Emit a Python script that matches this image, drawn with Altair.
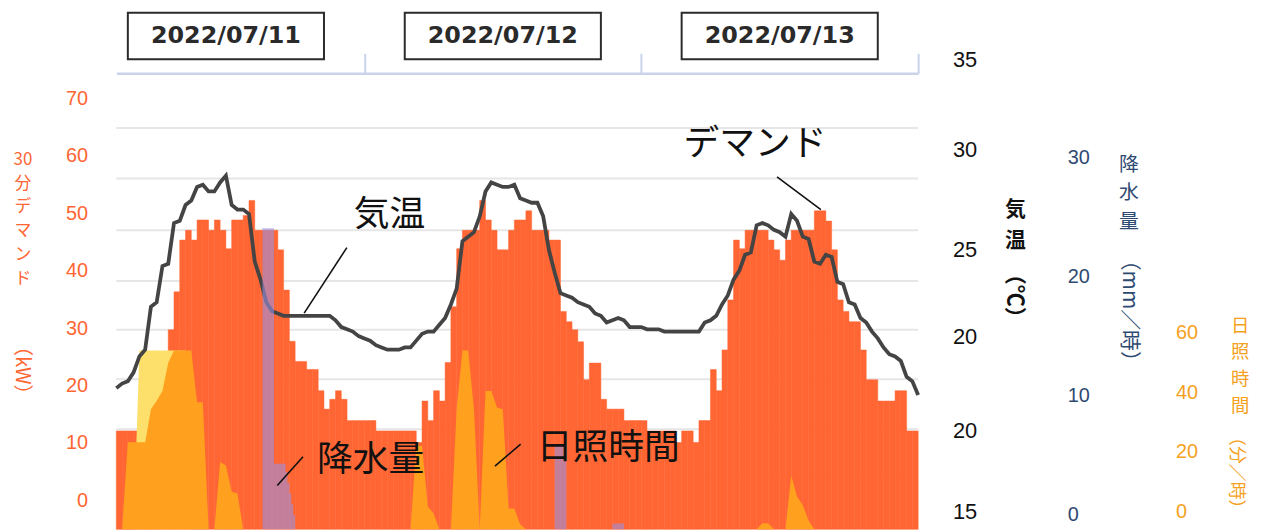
import altair as alt
import pandas as pd

# ------------------------------------------------------------------ data
START = "2022-07-11 02:30"          # first 30-minute slot shown
FMT = "%Y-%m-%dT%H:%M:%S"

# 30-minute demand (kW), one value per slot
DEMAND_KW = [
    12.1, 12.1, 12.1, 12.1, 12.1, 13.9, 15.9, 19.1, 24.0, 29.7,
    36.3, 45.3, 47.0, 45.3, 48.8, 48.8, 47.0, 48.8, 47.0, 43.8,
    48.8, 48.8, 49.6, 52.2, 47.0, 47.0, 47.0, 47.0, 43.6, 36.6,
    27.7, 24.2, 24.2, 22.8, 22.8, 19.1, 15.9, 17.6, 19.1, 17.6,
    13.9, 13.9, 13.9, 13.9, 13.9, 12.1, 12.1, 12.1, 12.1, 12.1,
    12.1, 12.1, 10.1, 17.3, 13.9, 19.1, 17.3, 24.0, 33.7, 43.8,
    47.0, 47.0, 47.0, 52.2, 48.8, 47.0, 43.6, 43.6, 47.0, 48.8,
    48.8, 50.4, 47.0, 47.0, 47.0, 45.3, 45.3, 32.9, 31.1, 29.7,
    27.6, 21.0, 23.9, 23.9, 17.6, 15.9, 15.9, 15.9, 13.9, 13.9,
    13.9, 13.9, 12.1, 12.1, 12.1, 12.1, 12.1, 10.1, 12.1, 12.1,
    10.1, 13.9, 13.9, 22.8, 19.1, 26.2, 34.9, 45.3, 43.8, 47.0,
    47.0, 47.0, 47.0, 45.3, 43.6, 41.8, 45.3, 47.0, 47.0, 47.0,
    47.0, 50.4, 50.4, 48.6, 43.6, 34.9, 32.9, 31.1, 31.1, 26.2,
    21.0, 21.0, 17.3, 17.3, 17.3, 19.1, 19.1, 12.1, 12.1,
]

# air temperature (deg C) at every slot boundary
TEMP_C = [
    20.5, 20.7, 20.8, 21.2, 21.9, 22.2, 24.1, 24.3, 25.9, 26.0,
    27.8, 27.9, 28.6, 28.8, 29.4, 29.5, 29.2, 29.2, 29.6, 29.9,
    28.6, 28.4, 28.4, 28.2, 26.1, 25.3, 24.3, 23.9, 23.8, 23.7,
    23.7, 23.7, 23.7, 23.7, 23.7, 23.7, 23.7, 23.7, 23.5, 23.2,
    23.1, 23.0, 22.8, 22.7, 22.6, 22.4, 22.3, 22.2, 22.2, 22.2,
    22.3, 22.3, 22.6, 22.9, 23.0, 23.0, 23.3, 23.6, 24.2, 24.9,
    27.0, 27.2, 27.4, 28.1, 29.2, 29.6, 29.5, 29.4, 29.4, 29.5,
    28.9, 28.8, 28.7, 28.7, 28.1, 26.6, 25.6, 24.7, 24.6, 24.5,
    24.3, 24.2, 24.1, 23.8, 23.7, 23.4, 23.5, 23.6, 23.5, 23.2,
    23.2, 23.2, 23.1, 23.1, 23.1, 23.0, 23.0, 23.0, 23.0, 23.0,
    23.0, 23.0, 23.4, 23.5, 23.7, 24.2, 24.6, 25.3, 25.7, 26.4,
    26.5, 27.7, 27.8, 27.7, 27.5, 27.4, 27.2, 28.2, 27.9, 27.2,
    27.1, 26.1, 26.0, 26.4, 26.3, 25.2, 25.1, 24.3, 24.2, 23.6,
    23.4, 23.0, 22.7, 22.3, 22.0, 21.9, 21.7, 21.0, 20.8, 20.2,
]

# sunshine (min/hour) at every slot boundary
SUNSHINE_MIN = [
    0, 0, 29.2, 29.2, 29.2, 29.2, 40.3, 43.1, 46.4, 55.9,
    60, 60, 60, 60, 42.6, 42.6, 0, 0, 22.6, 21.4,
    12.6, 12.0, 0, 0, 0, 0, 0, 0, 0, 0,
    0, 0, 0, 0, 0, 0, 0, 0, 0, 0,
    0, 0, 0, 0, 0, 0, 0, 0, 0, 0,
    0, 0, 28.0, 28.0, 7.7, 5.3, 0, 0, 0, 40.3,
    60, 60, 40.3, 0, 46.4, 46.4, 40.9, 40.3, 7.0, 7.0,
    1.7, 0, 0, 0, 0, 0, 0, 0, 0, 0,
    0, 0, 0, 0, 0, 0, 0, 0, 0, 0,
    0, 0, 0, 0, 0, 0, 0, 0, 0, 0,
    0, 0, 0, 0, 0, 0, 0, 0, 0, 0,
    0, 0, 2.0, 2.0, 0, 0, 0, 18.1, 11.0, 8.1,
    3.0, 0, 0, 0, 0, 0, 0, 0, 0, 0,
    0, 0, 0, 0, 0, 0, 0, 0, 0, 0,
]

# pale yellow band behind the first morning's sunshine
YELLOW_MIN = [
    0, 0, 0, 0, 60, 60, 60, 60, 60, 60,
    60, 60, 60, 0, 0, 0, 0, 0, 0, 0,
] + [0] * 120

# precipitation (mm/hour), step series
PRECIP_TIME = [
    "2022-07-11 02:30", "2022-07-11 15:10", "2022-07-11 16:10", "2022-07-11 17:10",
    "2022-07-11 17:20", "2022-07-11 17:30", "2022-07-11 17:40", "2022-07-11 17:50",
    "2022-07-11 18:00", "2022-07-12 16:30", "2022-07-12 17:30", "2022-07-12 21:30",
    "2022-07-12 22:30", "2022-07-14 00:00",
]
PRECIP_MM = [0, 25.3, 5.5, 4.8, 3.9, 3.0, 2.1, 1.2, 0, 7.0, 0, 0.5, 0, 0]

DAY_LABEL = ["2022/07/11", "2022/07/12", "2022/07/13"]
DAY_DATE = ["2022-07-11", "2022-07-12", "2022-07-13"]

DEMAND_TICKS = [0, 10, 20, 30, 40, 50, 60, 70]
GRID_KW = [64.8, 56.0, 47.0, 38.2, 29.7, 21.1, 12.4, 3.8]
TEMP_TICK_VALUE = [35, 31.04, 26.6, 22.78, 18.6, 15]
TEMP_TICK_TEXT = ["35", "30", "25", "20", "20", "15"]
PRECIP_TICKS = [0, 10, 20, 30]
SUN_TICKS = [0, 20, 40, 60]

ANNOT_TEXT = ["デマンド", "気温", "降水量", "日照時間"]
ANNOT_TIME = ["2022-07-13 09:52", "2022-07-12 02:11", "2022-07-12 00:33", "2022-07-12 21:08"]
ANNOT_KW = [62.0, 49.6, 7.1, 9.2]

# ------------------------------------------------------------------ frames
W, H = 807, 459


def iso(ts):
    return pd.Timestamp(ts).strftime(FMT)


slots = pd.date_range(START, periods=len(TEMP_C), freq="30min")
bars_df = pd.DataFrame({
    "t": slots[:-1].strftime(FMT),
    "t2": slots[1:].strftime(FMT),
    "kw": DEMAND_KW,
})
temp_df = pd.DataFrame({"t": slots.strftime(FMT), "c": TEMP_C})
sun_df = pd.DataFrame({"t": slots.strftime(FMT), "m": SUNSHINE_MIN})
yel_df = pd.DataFrame({"t": slots.strftime(FMT), "m": YELLOW_MIN})
precip_df = pd.DataFrame({"t": [iso(s) for s in PRECIP_TIME], "mm": PRECIP_MM})
grid_df = pd.DataFrame({"kw": GRID_KW})
temp_tick_df = pd.DataFrame({"v": TEMP_TICK_VALUE, "s": TEMP_TICK_TEXT})
annot_df = pd.DataFrame({"t": [iso(s) for s in ANNOT_TIME], "kw": ANNOT_KW, "s": ANNOT_TEXT})
lead_df = pd.DataFrame({
    "t": [iso(s) for s in ["2022-07-13 11:46", "2022-07-11 22:29", "2022-07-11 18:41", "2022-07-12 13:33"]],
    "kw": [56.3, 44.0, 7.6, 9.8],
    "t2": [iso(s) for s in ["2022-07-13 15:34", "2022-07-11 18:47", "2022-07-11 16:27", "2022-07-12 11:19"]],
    "kw2": [50.6, 32.6, 2.6, 6.0],
})
day0 = [pd.Timestamp(d) for d in DAY_DATE]
box_df = pd.DataFrame({
    "t": [(d + pd.Timedelta(hours=3, minutes=30)).strftime(FMT) for d in day0],
    "t2": [(d + pd.Timedelta(hours=20, minutes=30)).strftime(FMT) for d in day0],
})
day_text_df = pd.DataFrame({
    "t": [(d + pd.Timedelta(hours=12)).strftime(FMT) for d in day0],
    "s": DAY_LABEL,
})

# ------------------------------------------------------------------ scales / axes
X_SCALE = alt.Scale(
    domain=[alt.DateTime(year=2022, month=7, date=11, hours=2, minutes=30),
            alt.DateTime(year=2022, month=7, date=14, hours=0)],
    nice=False,
)
X_AXIS = alt.Axis(
    orient="top", title=None, labels=False, grid=False,
    values=[alt.DateTime(year=2022, month=7, date=12),
            alt.DateTime(year=2022, month=7, date=13),
            alt.DateTime(year=2022, month=7, date=14)],
    domainColor="#c9d3ea", domainWidth=2.5,
    tickColor="#c9d3ea", tickWidth=2, tickSize=20,
)
X = alt.X("t:T", scale=X_SCALE, axis=X_AXIS)

D_SCALE = alt.Scale(domain=[0, 70], range=[430, 25], nice=False, zero=False)
T_SCALE = alt.Scale(domain=[15, 35], range=[442, -13], nice=False, zero=False)
S_SCALE = alt.Scale(domain=[0, 60], range=[H, H - 180], nice=False, zero=False)
P_SCALE = alt.Scale(domain=[0, 30], range=[H, H - 30 * 11.98], nice=False, zero=False)

D_AXIS = alt.Axis(
    orient="left", values=DEMAND_TICKS, title=None, grid=False, domain=False,
    ticks=False, tickSize=0, labelPadding=29, labelFont="Liberation Sans",
    labelFontSize=20, labelColor="#FF6633", labelFlush=False, labelOverlap=False,
)
P_AXIS = alt.Axis(
    orient="right", values=PRECIP_TICKS, title=None, grid=False, domain=False,
    ticks=False, tickSize=0, labelPadding=0, offset=150, labelOffset=-15,
    labelFont="Liberation Sans", labelFontSize=20, labelColor="#2E4A72",
    labelFlush=False, labelOverlap=False,
)
S_AXIS = alt.Axis(
    orient="right", values=SUN_TICKS, title=None, grid=False, domain=False,
    ticks=False, tickSize=0, labelPadding=0, offset=259, labelOffset=-18,
    labelFont="Liberation Sans", labelFontSize=20, labelColor="#F5A11E",
    labelFlush=False, labelOverlap=False,
)

# ------------------------------------------------------------------ layers
grid = alt.Chart(grid_df).mark_rule(color="#e6e6e6", strokeWidth=2).encode(
    y=alt.Y("kw:Q", scale=D_SCALE, axis=None)
)
bars = alt.Chart(bars_df).mark_bar(color="#FF6633", stroke="#FF6633", strokeWidth=0.5).encode(
    x=X, x2="t2:T",
    y=alt.Y("kw:Q", scale=D_SCALE, axis=D_AXIS, stack=None), y2=alt.value(H),
)
yellow = alt.Chart(yel_df).mark_area(color="#FDE06C").encode(
    x=X, y=alt.Y("m:Q", scale=S_SCALE, axis=None, stack=None)
)
sun = alt.Chart(sun_df).mark_area(color="#FFA01E").encode(
    x=X, y=alt.Y("m:Q", scale=S_SCALE, axis=S_AXIS, stack=None)
)
temp_line = alt.Chart(temp_df).mark_line(color="#444444", strokeWidth=3.8).encode(
    x=X, y=alt.Y("c:Q", scale=T_SCALE, axis=None)
)
temp_ticks = alt.Chart(temp_tick_df).mark_text(
    align="left", baseline="middle", font="Liberation Sans", fontSize=22, color="#111111"
).encode(x=alt.value(842), y=alt.Y("v:Q", scale=T_SCALE, axis=None), text="s:N")
precip = alt.Chart(precip_df).mark_area(
    interpolate="step-after", color="#9B8FE0", opacity=0.6
).encode(x=X, y=alt.Y("mm:Q", scale=P_SCALE, axis=P_AXIS, stack=None))
leaders = alt.Chart(lead_df).mark_rule(color="#111111", strokeWidth=1.6).encode(
    x=X, x2="t2:T", y=alt.Y("kw:Q", scale=D_SCALE, axis=None), y2="kw2:Q"
)
annot = alt.Chart(annot_df).mark_text(
    font="Noto Sans CJK JP", fontSize=36, color="#111111", align="center", baseline="middle"
).encode(x=X, y=alt.Y("kw:Q", scale=D_SCALE, axis=None), text="s:N")
boxes = alt.Chart(box_df).mark_rect(fill="white", stroke="#2b2b2b", strokeWidth=2).encode(
    x=X, x2="t2:T", y=alt.value(-61), y2=alt.value(-14)
)
day_text = alt.Chart(day_text_df).mark_text(
    font="DejaVu Sans", fontSize=24, fontWeight="bold", color="#2a2a2a",
    align="center", baseline="middle"
).encode(x=X, y=alt.value(-37), text="s:N")


def title_text(s, x, y, color, size=21, line_height=None, angle=0, weight="normal",
               baseline="top"):
    return alt.Chart(pd.DataFrame({"s": [s]})).mark_text(
        font="Noto Sans CJK JP", fontSize=size, color=color, angle=angle,
        lineBreak="\n", lineHeight=line_height or size, align="center",
        baseline=baseline, fontWeight=weight,
    ).encode(x=alt.value(x), y=alt.value(y), text="s:N")


titles = [
    title_text("30\n分\nデ\nマ\nン\nド", -94, 79, "#FF6633", 17, 24),
    title_text("（kW）", -95, 299, "#FF6633", 20, angle=90, baseline="middle"),
    title_text("気\n温", 905, 127, "#111111", 21, 31, weight="bold"),
    title_text("（℃）", 904, 224, "#111111", 22, angle=90, weight="bold", baseline="middle"),
    title_text("降\n水\n量", 1019, 82, "#2E4A72", 20, 29),
    title_text("（mm／時）", 1019, 239, "#2E4A72", 21, angle=90, baseline="middle"),
    title_text("日\n照\n時\n間", 1131, 245, "#F5A11E", 18.5, 27),
    title_text("（分／時）", 1127, 402, "#F5A11E", 18, angle=90, baseline="middle"),
]

chart = alt.layer(
    grid, bars, yellow, sun, temp_line, temp_ticks, precip, leaders, annot,
    boxes, day_text, *titles,
).resolve_scale(y="independent").properties(
    width=W, height=H,
    autosize=alt.AutoSizeParams(type="none"),
    padding={"left": 109, "top": 64, "right": 338, "bottom": 0},
).configure_view(stroke=None)

chart.save("out.html", embed_options={"renderer": "svg", "actions": False})
